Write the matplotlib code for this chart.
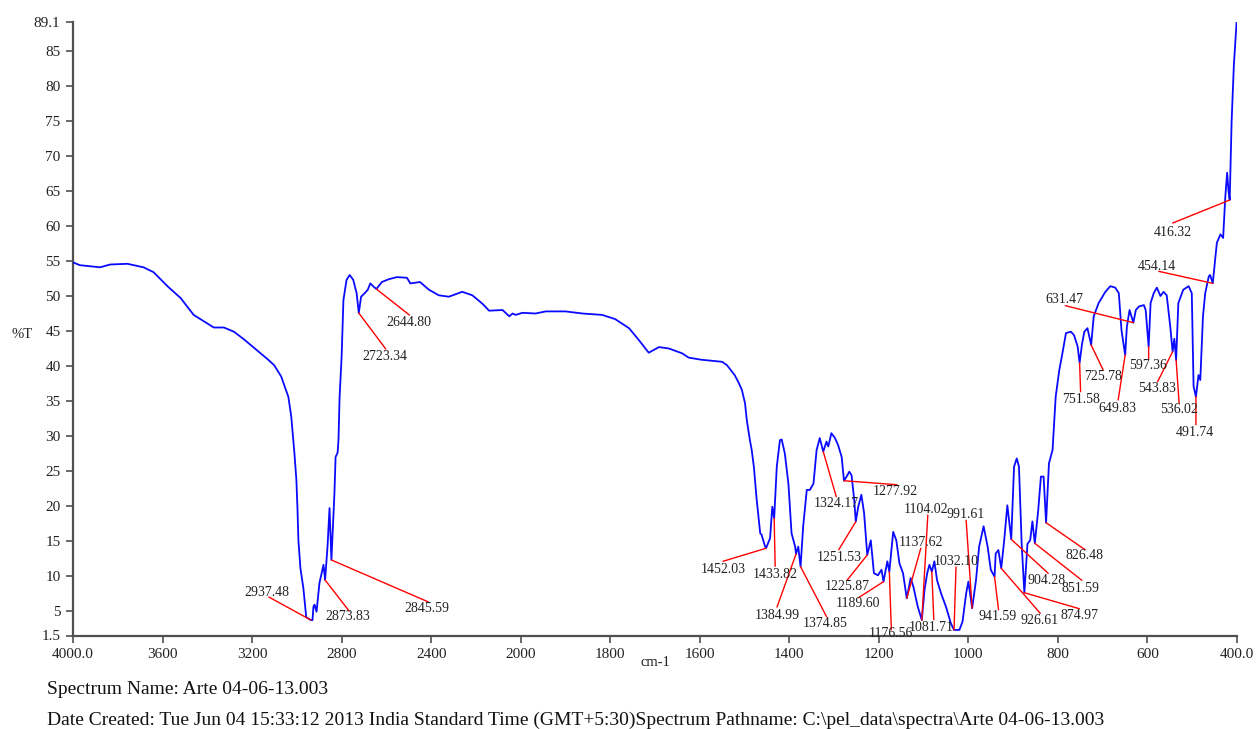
import numpy as np
import matplotlib
matplotlib.use("Agg")
import matplotlib.pyplot as plt

plt.rcParams['font.family'] = ['Liberation Serif', 'DejaVu Serif']

# ---- spectrum data (wavenumber cm-1, %T) ----
wavenumber = [
    4000, 3969, 3879, 3834, 3757, 3685, 3640, 3578, 3519, 3461,
    3371, 3326, 3281, 3236, 3191, 3128, 3101, 3070, 3038, 3025,
    3011, 3002, 2997, 2993, 2984, 2971, 2958, 2937.48, 2930, 2926,
    2921, 2912, 2899, 2881, 2873.83, 2863, 2854, 2845.59, 2832, 2827,
    2818, 2814, 2809, 2800, 2792, 2778, 2764, 2748, 2733, 2723.34,
    2713, 2697, 2683, 2672, 2656, 2644.80, 2620, 2589, 2553, 2508,
    2493, 2450, 2410, 2366, 2321, 2261, 2216, 2171, 2141, 2081,
    2051, 2036, 2023, 1996, 1967, 1944, 1900, 1862, 1818, 1789,
    1758, 1736, 1714, 1691, 1669, 1639, 1625, 1597, 1550, 1539, 1522, 1513,
    1506, 1499, 1495, 1488, 1484, 1479, 1473, 1465, 1462, 1454, 1452.03,
    1443, 1438, 1433.82, 1428, 1421, 1417, 1410, 1402, 1395, 1387,
    1384.99, 1380, 1374.85, 1369, 1361, 1354, 1346, 1339, 1332, 1324.17,
    1317, 1313, 1306, 1298, 1291, 1283, 1277.92, 1272, 1266, 1261,
    1255, 1251.53, 1246, 1239, 1233, 1225.87, 1218, 1211, 1202, 1194,
    1189.60, 1181, 1176.56, 1168, 1161, 1154, 1146, 1137.62, 1129, 1123,
    1113, 1104.02, 1098, 1092, 1087, 1081.71, 1076, 1070, 1061, 1050,
    1039, 1032.10, 1020, 1013, 1005, 1000, 991.61, 983, 976, 966,
    957, 950, 941.59, 939, 933, 926.61, 920, 913, 904.28, 898,
    892, 887, 881, 874.97, 868, 862, 857, 851.59, 844, 838,
    832, 826.48, 820, 812, 805, 797, 790, 782, 771, 764,
    756, 751.58, 746, 741, 734, 725.78, 720, 709, 694, 683,
    672, 664, 658, 649.83, 646, 640, 631.47, 626, 619, 608,
    604, 597.36, 593, 586, 579, 571, 564, 557, 549, 543.83,
    540, 536.02, 531, 520, 508, 501, 497, 491.74, 486, 482,
    476, 471, 463, 460, 454.14, 445, 437, 431, 426, 422,
    419, 416.32, 412, 407, 401,
]
transmittance = [
    54.8, 54.4, 54.1, 54.5, 54.6, 54.1, 53.4, 51.4, 49.7, 47.3,
    45.5, 45.5, 44.9, 43.8, 42.6, 40.9, 40.1, 38.5, 35.6, 32.8,
    27.6, 23.7, 19.4, 15.1, 11.1, 8.3, 4.1, 3.71, 3.7, 5.6,
    5.9, 4.9, 9.0, 11.6, 9.43, 14.2, 19.7, 12.29, 21.9, 27.0,
    27.6, 29.4, 35.6, 41.3, 49.4, 52.3, 53.0, 52.3, 50.4, 47.57,
    49.9, 50.4, 50.9, 51.8, 51.3, 51.0, 52.0, 52.4, 52.7, 52.6,
    51.8, 52.0, 50.9, 50.1, 49.9, 50.6, 50.1, 48.9, 47.9, 48.0,
    47.1, 47.5, 47.3, 47.6, 47.5, 47.8, 47.8, 47.5, 47.3, 46.7,
    45.4, 43.7, 41.9, 42.7, 42.5, 41.8, 41.2, 40.9, 40.6, 40.1, 38.7, 37.6,
    36.6, 34.7, 32.3, 29.4, 28.0, 25.5, 21.0, 16.1, 15.9, 14.2, 13.96,
    15.4, 19.9, 18.24, 25.6, 29.4, 29.5, 27.5, 23.2, 16.1, 14.2,
    13.14, 14.2, 11.33, 17.1, 22.3, 22.3, 23.2, 28.0, 29.7, 27.76,
    29.2, 28.5, 30.4, 29.7, 28.7, 27.0, 23.61, 24.2, 24.9, 24.4,
    20.9, 17.76, 19.9, 21.6, 19.0, 13.0, 15.1, 10.4, 10.1, 10.9,
    9.19, 12.1, 10.61, 16.3, 15.1, 11.8, 10.4, 6.81, 9.7, 8.5,
    5.6, 3.71, 8.0, 10.4, 11.6, 10.61, 12.1, 9.4, 7.5, 5.6,
    3.2, 2.29, 2.3, 3.5, 7.5, 9.2, 5.39, 9.4, 14.2, 17.1,
    14.2, 10.9, 9.9, 13.2, 13.7, 11.1, 15.1, 20.1, 15.24, 25.6,
    26.8, 25.6, 14.6, 7.61, 14.6, 15.1, 17.8, 14.67, 19.4, 24.2,
    24.2, 17.61, 26.1, 28.0, 35.6, 39.4, 41.8, 44.7, 44.9, 44.4,
    42.8, 40.47, 43.2, 44.9, 45.4, 43.0, 47.1, 49.0, 50.6, 51.4,
    51.2, 50.4, 45.1, 41.57, 45.6, 48.0, 46.19, 48.0, 48.5, 48.7,
    48.0, 42.76, 49.0, 50.4, 51.2, 50.0, 50.6, 50.1, 45.6, 42.04,
    43.9, 40.86, 49.0, 50.9, 51.4, 50.4, 37.1, 35.61, 38.7, 38.0,
    47.1, 50.4, 52.8, 53.0, 51.81, 57.6, 58.8, 58.3, 64.3, 67.6,
    65.0, 63.71, 75.0, 83.0, 89.0,
]

# ---- peak labels ----
peak_labels = [
    "2937.48", "2873.83", "2845.59", "2723.34", "2644.80",
    "1452.03", "1433.82", "1384.99", "1374.85", "1324.17",
    "1277.92", "1251.53", "1225.87", "1189.60", "1176.56",
    "1137.62", "1104.02", "1081.71", "1032.10", "991.61",
    "941.59", "926.61", "904.28", "874.97", "851.59",
    "826.48", "751.58", "725.78", "649.83", "631.47",
    "597.36", "543.83", "536.02", "491.74", "454.14", "416.32",
]
peak_T = [
    3.71, 9.43, 12.29, 47.57, 51.0,
    13.96, 18.24, 13.14, 11.33, 27.76,
    23.61, 17.76, 13.0, 9.19, 10.61,
    6.81, 3.71, 10.61, 2.29, 5.39,
    9.9, 11.1, 15.24, 7.61, 14.67,
    17.61, 40.47, 43.0, 41.57, 46.19,
    42.76, 42.04, 40.86, 35.61, 51.81, 63.71,
]
# layout: leader-line end and text centre, offsets in pixels from the peak
line_off = [
    (-42, 23), (24, -31), (97, -42), (27, -36), (33, -26),
    (-43, -13), (1, -48), (-19, -53), (26, -50), (13, -45),
    (53, -4), (-17, -28), (-20, -25), (-25, -16), (2, -58),
    (14, 50), (6, 105), (2, -48), (2, 63), (-6, 88),
    (4, -33), (39, -45), (37, -34), (55, -16), (47, -37),
    (39, -27), (1, -29), (12, -25), (-7, -45), (-68, 17),
    (0, -12), (-15, -30), (3, -43), (0, -28), (-54, 12), (-57, -23),
]
text_off = [
    (-44, 28), (23, -37), (95, -49), (26, -43), (33, -34),
    (-43, -21), (1, -56), (-19, -61), (25, -57), (13, -52),
    (51, -11), (-17, -36), (-20, -31), (-26, -22), (2, -62),
    (14, 56), (4, 111), (-1, -56), (2, 68), (-7, 94),
    (3, -40), (38, -52), (35, -41), (55, -23), (46, -45),
    (38, -33), (1, -37), (12, -32), (-8, -53), (-69, 23),
    (-1, -19), (-16, -37), (3, -50), (-1, -36), (-56, 17), (-57, -32),
]

xticks = [4000, 3600, 3200, 2800, 2400, 2000, 1800, 1600, 1400, 1200, 1000, 800, 600, 400]
xtick_labels = ["4000.0", "3600", "3200", "2800", "2400", "2000", "1800", "1600",
                "1400", "1200", "1000", "800", "600", "400.0"]
yticks = [1.5, 5, 10, 15, 20, 25, 30, 35, 40, 45, 50, 55, 60, 65, 70, 75, 80, 85, 89.1]
ytick_labels = ["1.5", "5", "10", "15", "20", "25", "30", "35", "40", "45", "50",
                "55", "60", "65", "70", "75", "80", "85", "89.1"]


# IR-style abscissa: scale doubles below 2000 cm-1
def fwd(w):
    w = np.asarray(w, dtype=float)
    return np.where(w >= 2000, w, 2 * w - 2000)


def inv(p):
    p = np.asarray(p, dtype=float)
    return np.where(p >= 2000, p, (p + 2000) / 2)


fig = plt.figure(figsize=(12.58, 7.29), dpi=100)
W, H = 1258, 729
ax = fig.add_axes([73 / W, (H - 635.5) / H, (1237 - 73) / W, (635.5 - 22.3) / H])
ax.set_xscale('function', functions=(fwd, inv))
ax.set_xlim(4000, 400)
ax.set_ylim(1.5, 89.1)

ax.plot(wavenumber, transmittance, color='#0a0aff', lw=1.3, zorder=3)

for lab, t, lo, to in zip(peak_labels, peak_T, line_off, text_off):
    w = float(lab)
    ax.annotate('', xy=(w, t), xytext=lo, textcoords='offset pixels',
                arrowprops=dict(arrowstyle='-', color='#ff0000', lw=1.0,
                                shrinkA=0, shrinkB=0), zorder=4)
    ax.annotate(lab, xy=(w, t), xytext=to, textcoords='offset pixels',
                ha='center', va='center', fontsize=10, color='#222222', zorder=5)

for s in ['top', 'right']:
    ax.spines[s].set_visible(False)
for s in ['left', 'bottom']:
    ax.spines[s].set_color('#505050')
    ax.spines[s].set_linewidth(1.6)

ax.set_xticks(xticks)
ax.set_xticklabels(xtick_labels)
ax.set_yticks(yticks)
ax.set_yticklabels(ytick_labels)
ax.xaxis.set_minor_locator(matplotlib.ticker.NullLocator())
ax.tick_params(axis='both', direction='out', length=5, width=1.2, color='#505050',
               labelsize=11, labelcolor='#222222', pad=4)

fig.text(22 / W, 1 - 335 / H, '%T', ha='center', va='center', fontsize=10.5, color='#222222')
fig.text(655 / W, 1 - 663 / H, 'cm-1', ha='center', va='center', fontsize=10.5, color='#222222')
fig.text(47 / W, 1 - 689 / H, 'Spectrum Name: Arte 04-06-13.003', ha='left', va='center',
         fontsize=14, color='#111111')
fig.text(47 / W, 1 - 720 / H,
         'Date Created: Tue Jun 04 15:33:12 2013 India Standard Time (GMT+5:30)'
         'Spectrum Pathname: C:\\pel_data\\spectra\\Arte 04-06-13.003',
         ha='left', va='center', fontsize=14, color='#111111')

fig.savefig('out.png', dpi=100)
